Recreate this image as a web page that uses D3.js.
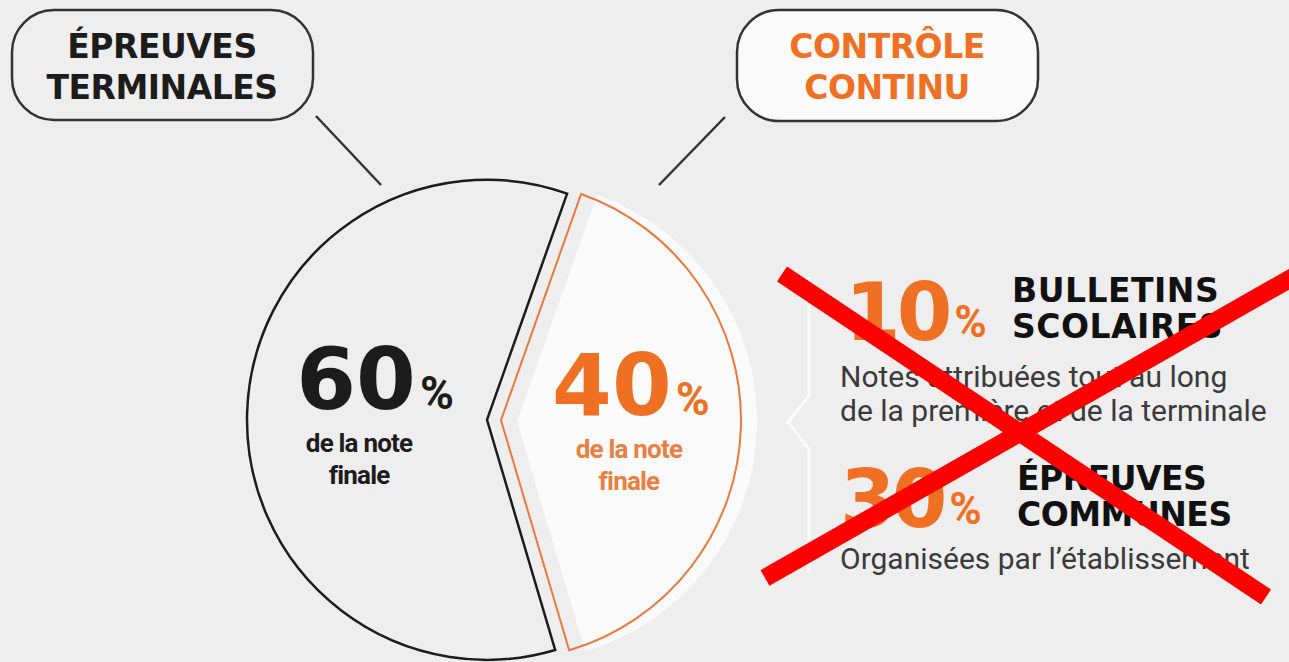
<!DOCTYPE html>
<html>
<head>
<meta charset="utf-8">
<script src="https://cdn.jsdelivr.net/npm/d3@7"></script>
<style>
body{margin:0;background:#eeeeee;overflow:hidden}
</style>
</head>
<body>
<svg id="drawing_region"></svg>
<script>
// data
const categories = ["ÉPREUVES TERMINALES", "CONTRÔLE CONTINU"];
const values = [60, 40];
const noteLines = ["de la note", "finale"];
const detailValues = [10, 30];
const detailTitles = [["BULLETINS", "SCOLAIRES"], ["ÉPREUVES", "COMMUNES"]];
const detailTexts = [["Notes attribuées tout au long", "de la première et de la terminale"], ["Organisées par l’établissement"]];

const width = 1289, height = 662;
const orange = "#f07023";
const dark = "#1c1c1c";

const svg = d3.select("#drawing_region")
    .attr("width", width)
    .attr("height", height);

svg.append("rect").attr("width", width).attr("height", height).attr("fill", "#eeeeee");

// pie
const center = {x: 494, y: 420};
const radius = 240;
const explode = 7;
const a0 = 163.5 * Math.PI / 180;

const pie = d3.pie().sort(null).value(d => d)
    .startAngle(a0).endAngle(a0 + 2 * Math.PI);
const arcs = pie(values);
const arc = d3.arc().innerRadius(0).outerRadius(radius);

const shift = d => {
    const m = (d.startAngle + d.endAngle) / 2;
    return [Math.sin(m) * explode, -Math.cos(m) * explode];
};

const chart = svg.append("g")
    .attr("transform", `translate(${center.x},${center.y})`);

// white layer behind the orange slice
chart.append("path")
    .attr("d", arc(arcs[1]))
    .attr("transform", () => { const s = shift(arcs[1]); return `translate(${s[0] + 16},${s[1] + 1})`; })
    .attr("fill", "#fafafa");

chart.selectAll(".slice")
    .data(arcs)
    .join("path")
    .attr("class", "slice")
    .attr("d", arc)
    .attr("transform", d => { const s = shift(d); return `translate(${s[0]},${s[1]})`; })
    .attr("fill", "none")
    .attr("stroke", (d, i) => i == 0 ? dark : "#e97a3c")
    .attr("stroke-width", (d, i) => i == 0 ? 2.5 : 2)
    .attr("stroke-linejoin", "miter");

// labels in slices
const labelOffsets = [{big: 8, small: -8}, {big: 10, small: 8}];
arcs.forEach((d, i) => {
    const s = shift(d);
    const c = arc.centroid(d);
    const x = c[0] + s[0], y = c[1];
    const col = i == 0 ? dark : orange;
    const t = chart.append("text")
        .attr("x", x + labelOffsets[i].big)
        .attr("y", y - 8)
        .attr("text-anchor", "middle")
        .attr("fill", col)
        .attr("font-family", "DejaVu Sans")
        .attr("font-weight", "bold");
    t.append("tspan").attr("font-size", 86).text(d.data);
    t.append("tspan").attr("font-family", "Roboto").attr("font-size", 46).attr("dx", 4).text("%");
    noteLines.forEach((l, j) => {
        chart.append("text")
            .attr("x", x + labelOffsets[i].small)
            .attr("y", y + 35 + j * 32)
            .attr("text-anchor", "middle")
            .attr("fill", i == 0 ? dark : "#e8803f")
            .attr("font-family", "Roboto")
            .attr("font-weight", "bold")
            .attr("font-size", 26)
            .attr("letter-spacing", -0.8)
            .text(l);
    });
});

// category boxes
const boxes = [{x: 12, y: 10, w: 301, h: 110, cx: 162, fill: "#eeeeee", color: dark, line: [316, 116, 381, 185]},
               {x: 737, y: 10, w: 301, h: 111, cx: 887, fill: "#fafafa", color: orange, line: [725, 117, 659, 185]}];
categories.forEach((c, i) => {
    const b = boxes[i];
    svg.append("rect")
        .attr("x", b.x).attr("y", b.y)
        .attr("width", b.w).attr("height", b.h)
        .attr("rx", 42)
        .attr("fill", b.fill)
        .attr("stroke", "#333")
        .attr("stroke-width", 2.5);
    const words = c.split(" ");
    words.forEach((w, j) => {
        svg.append("text")
            .attr("x", b.cx)
            .attr("y", 58 + j * 41)
            .attr("text-anchor", "middle")
            .attr("fill", b.color)
            .attr("font-family", "DejaVu Sans")
            .attr("font-weight", "bold")
            .attr("font-size", 33)
            .attr("letter-spacing", -0.5)
            .text(w);
    });
    svg.append("line")
        .attr("x1", b.line[0]).attr("y1", b.line[1])
        .attr("x2", b.line[2]).attr("y2", b.line[3])
        .attr("stroke", "#333")
        .attr("stroke-width", 2.5);
});

// bracket
svg.append("path")
    .attr("d", "M809,277 L809,396 L788,422 L809,449 L809,573")
    .attr("fill", "none")
    .attr("stroke", "#fbfbfb")
    .attr("stroke-width", 3);

// details
const detailPos = [{num: 845, y: 340, title: 1012, ty: 302, text: 387, sp: 0.5}, {num: 840, y: 527, title: 1017, ty: 490, text: 569, sp: -0.5}];
detailValues.forEach((v, i) => {
    const p = detailPos[i];
    const t = svg.append("text")
        .attr("x", p.num).attr("y", p.y)
        .attr("fill", orange)
        .attr("font-family", "DejaVu Sans")
        .attr("font-weight", "bold");
    t.append("tspan").attr("font-size", 80).attr("letter-spacing", -4).text(v);
    t.append("tspan").attr("font-family", "Roboto").attr("font-size", 44).attr("dx", 6).attr("dy", -3).text("%");
    detailTitles[i].forEach((w, j) => {
        svg.append("text")
            .attr("x", p.title).attr("y", p.ty + j * 36)
            .attr("fill", "#111")
            .attr("font-family", "DejaVu Sans")
            .attr("font-weight", "bold")
            .attr("font-size", 33)
            .attr("letter-spacing", p.sp)
            .text(w);
    });
    detailTexts[i].forEach((l, j) => {
        svg.append("text")
            .attr("x", 840).attr("y", p.text + j * 34)
            .attr("fill", "#3a3a3a")
            .attr("font-family", "Roboto")
            .attr("font-size", 30)
            .text(l);
    });
});

// red cross
const cross = [[782, 274, 1266, 597], [765, 578, 1300, 273]];
svg.selectAll(".cross")
    .data(cross)
    .join("line")
    .attr("class", "cross")
    .attr("x1", d => d[0]).attr("y1", d => d[1])
    .attr("x2", d => d[2]).attr("y2", d => d[3])
    .attr("stroke", "#ff0000")
    .attr("stroke-width", 18);
</script>
</body>
</html>
